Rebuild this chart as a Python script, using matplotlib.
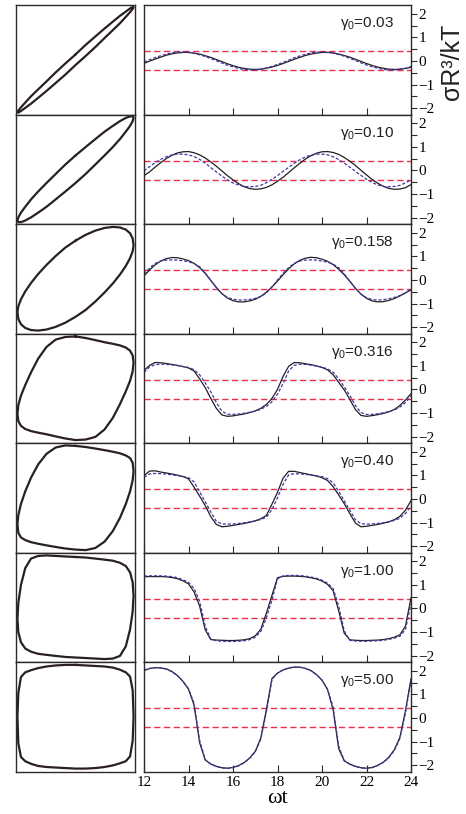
import matplotlib
matplotlib.use("Agg")
import matplotlib.pyplot as plt
from matplotlib.ticker import MultipleLocator

plt.rcParams['font.family'] = 'Liberation Serif'
plt.rcParams['mathtext.fontset'] = 'custom'
plt.rcParams['mathtext.rm'] = 'Liberation Sans'
plt.rcParams['mathtext.it'] = 'Liberation Sans'

gamma0 = ['0.03', '0.10', '0.158', '0.316', '0.40', '1.00', '5.00']
red_levels = [0.4, -0.4]
xticks = [12, 14, 16, 18, 20, 22, 24]
yticks = [-2, -1, 0, 1, 2]

# omega*t samples
wt = [12.0, 12.25, 12.5, 12.75, 13.0, 13.25, 13.5, 13.75, 14.0, 14.25, 14.5, 14.75,
      15.0, 15.25, 15.5, 15.75, 16.0, 16.25, 16.5, 16.75, 17.0, 17.25, 17.5, 17.75,
      18.0, 18.25, 18.5, 18.75, 19.0, 19.25, 19.5, 19.75, 20.0, 20.25, 20.5, 20.75,
      21.0, 21.25, 21.5, 21.75, 22.0, 22.25, 22.5, 22.75, 23.0, 23.25, 23.5, 23.75, 24.0]

# stress, simulation (solid)
sim_003 = [-0.10, -0.01, 0.08, 0.16, 0.24, 0.30, 0.34, 0.36, 0.36, 0.33, 0.29, 0.22,
           0.15, 0.06, -0.03, -0.12, -0.20, -0.27, -0.32, -0.35, -0.36, -0.35, -0.31, -0.26,
           -0.19, -0.11, -0.02, 0.07, 0.15, 0.23, 0.29, 0.33, 0.36, 0.36, 0.34, 0.29,
           0.23, 0.16, 0.07, -0.02, -0.11, -0.19, -0.26, -0.31, -0.35, -0.36, -0.35, -0.32, -0.27]
sim_010 = [-0.22, -0.06, 0.14, 0.33, 0.50, 0.64, 0.74, 0.79, 0.80, 0.75, 0.66, 0.53,
           0.36, 0.18, -0.02, -0.22, -0.40, -0.56, -0.69, -0.77, -0.80, -0.78, -0.72, -0.61,
           -0.46, -0.29, -0.09, 0.11, 0.30, 0.48, 0.62, 0.73, 0.79, 0.80, 0.76, 0.68,
           0.55, 0.39, 0.21, 0.01, -0.19, -0.38, -0.54, -0.67, -0.76, -0.80, -0.79, -0.73, -0.60]
sim_0158 = [0.17, 0.42, 0.64, 0.80, 0.90, 0.95, 0.94, 0.89, 0.82, 0.70, 0.52, 0.28,
            -0.02, -0.32, -0.58, -0.77, -0.88, -0.93, -0.93, -0.89, -0.82, -0.70, -0.52, -0.30,
            -0.05, 0.22, 0.47, 0.68, 0.83, 0.92, 0.96, 0.94, 0.88, 0.79, 0.65, 0.45,
            0.22, -0.06, -0.35, -0.60, -0.78, -0.89, -0.93, -0.92, -0.87, -0.79, -0.68, -0.55, -0.42]
sim_0316 = [0.80, 1.02, 1.14, 1.13, 1.10, 1.06, 1.02, 0.97, 0.91, 0.78, 0.45, 0.08,
            -0.38, -0.80, -1.08, -1.14, -1.12, -1.08, -1.04, -0.98, -0.91, -0.80, -0.64, -0.38,
            0.00, 0.55, 0.98, 1.14, 1.13, 1.09, 1.05, 1.00, 0.93, 0.83, 0.62, 0.30,
            -0.02, -0.42, -0.85, -1.10, -1.14, -1.11, -1.07, -1.02, -0.95, -0.85, -0.68, -0.45, -0.18]
sim_040 = [0.99, 1.18, 1.19, 1.14, 1.10, 1.06, 1.01, 0.95, 0.85, 0.50, 0.12, -0.28,
           -0.75, -1.08, -1.18, -1.16, -1.12, -1.08, -1.04, -0.99, -0.93, -0.84, -0.70, -0.22,
           0.28, 0.88, 1.17, 1.17, 1.12, 1.07, 1.02, 0.97, 0.90, 0.78, 0.52, 0.17,
           -0.20, -0.62, -1.02, -1.18, -1.16, -1.12, -1.08, -1.03, -0.97, -0.88, -0.74, -0.48, -0.07]
sim_100 = [1.34, 1.35, 1.35, 1.35, 1.34, 1.31, 1.26, 1.17, 1.04, 0.70, 0.10, -0.90,
           -1.32, -1.34, -1.35, -1.36, -1.36, -1.35, -1.33, -1.28, -1.16, -0.88, -0.20, 0.55,
           1.30, 1.36, 1.37, 1.37, 1.36, 1.34, 1.30, 1.25, 1.16, 1.02, 0.75, -0.10,
           -1.05, -1.33, -1.35, -1.36, -1.36, -1.35, -1.34, -1.32, -1.28, -1.22, -1.12, -0.75, 0.45]
sim_500 = [2.01, 2.09, 2.13, 2.12, 2.08, 1.97, 1.80, 1.55, 1.22, 0.55, -1.05, -1.78,
           -1.95, -2.05, -2.11, -2.13, -2.10, -2.02, -1.89, -1.70, -1.42, -0.85, 0.35, 1.67,
           1.90, 2.03, 2.11, 2.15, 2.15, 2.10, 2.01, 1.84, 1.60, 1.20, 0.35, -1.30,
           -1.82, -1.96, -2.05, -2.11, -2.13, -2.10, -2.01, -1.88, -1.67, -1.35, -0.82, 0.30, 1.66]

# stress, model (dashed)
mod_003 = [-0.05, 0.05, 0.14, 0.22, 0.29, 0.34, 0.37, 0.38, 0.36, 0.32, 0.26, 0.19,
           0.10, 0.01, -0.09, -0.18, -0.25, -0.32, -0.36, -0.38, -0.38, -0.35, -0.30, -0.23,
           -0.15, -0.06, 0.03, 0.13, 0.21, 0.28, 0.34, 0.37, 0.38, 0.37, 0.33, 0.27,
           0.20, 0.11, 0.02, -0.08, -0.17, -0.25, -0.31, -0.36, -0.38, -0.38, -0.35, -0.31, -0.24]
mod_010 = [-0.02, 0.16, 0.33, 0.47, 0.58, 0.65, 0.69, 0.69, 0.66, 0.59, 0.47, 0.31,
           0.12, -0.06, -0.24, -0.40, -0.53, -0.62, -0.68, -0.69, -0.68, -0.63, -0.52, -0.38,
           -0.22, -0.04, 0.13, 0.30, 0.45, 0.57, 0.65, 0.69, 0.69, 0.66, 0.58, 0.46,
           0.31, 0.14, -0.04, -0.21, -0.37, -0.51, -0.61, -0.68, -0.69, -0.68, -0.63, -0.53, -0.40]
mod_0158 = [0.25, 0.50, 0.70, 0.80, 0.84, 0.85, 0.84, 0.81, 0.77, 0.70, 0.56, 0.30,
            -0.02, -0.33, -0.58, -0.74, -0.82, -0.85, -0.85, -0.83, -0.78, -0.70, -0.55, -0.30,
            0.00, 0.28, 0.52, 0.70, 0.80, 0.84, 0.85, 0.84, 0.80, 0.75, 0.67, 0.52,
            0.26, -0.05, -0.36, -0.60, -0.75, -0.83, -0.85, -0.84, -0.80, -0.74, -0.66, -0.55, -0.38]
mod_0316 = [0.72, 0.95, 1.05, 1.07, 1.06, 1.04, 1.01, 0.97, 0.93, 0.84, 0.62, 0.28,
            -0.10, -0.55, -0.92, -1.05, -1.06, -1.04, -1.01, -0.97, -0.92, -0.84, -0.72, -0.52,
            -0.20, 0.25, 0.78, 1.02, 1.07, 1.06, 1.03, 0.99, 0.94, 0.87, 0.73, 0.45,
            0.10, -0.25, -0.68, -0.98, -1.06, -1.06, -1.03, -0.99, -0.94, -0.87, -0.75, -0.55, -0.28]
mod_040 = [0.92, 1.06, 1.08, 1.07, 1.05, 1.02, 0.99, 0.95, 0.90, 0.72, 0.30, -0.12,
           -0.55, -0.95, -1.06, -1.07, -1.06, -1.04, -1.01, -0.97, -0.93, -0.87, -0.78, -0.45,
           0.05, 0.62, 1.02, 1.07, 1.06, 1.04, 1.01, 0.98, 0.94, 0.86, 0.68, 0.32,
           -0.08, -0.48, -0.88, -1.05, -1.07, -1.06, -1.04, -1.01, -0.97, -0.91, -0.82, -0.62, -0.30]
mod_100 = [1.37, 1.38, 1.38, 1.38, 1.37, 1.35, 1.30, 1.22, 1.10, 0.85, 0.30, -0.75,
           -1.30, -1.37, -1.39, -1.40, -1.40, -1.39, -1.37, -1.32, -1.22, -0.98, -0.40, 0.35,
           1.25, 1.38, 1.40, 1.40, 1.39, 1.37, 1.33, 1.28, 1.20, 1.07, 0.85, 0.10,
           -0.95, -1.35, -1.38, -1.39, -1.39, -1.38, -1.37, -1.35, -1.31, -1.26, -1.18, -0.90, 0.20]
mod_500 = [2.03, 2.10, 2.13, 2.12, 2.07, 1.96, 1.79, 1.55, 1.24, 0.62, -0.95, -1.76,
           -1.96, -2.06, -2.12, -2.14, -2.11, -2.03, -1.90, -1.71, -1.44, -0.90, 0.25, 1.62,
           1.90, 2.04, 2.12, 2.16, 2.15, 2.10, 2.00, 1.83, 1.60, 1.22, 0.45, -1.20,
           -1.80, -1.96, -2.06, -2.12, -2.14, -2.11, -2.02, -1.89, -1.69, -1.38, -0.88, 0.20, 1.60]

# Lissajous loops: normalised strain (one cycle) and normalised stress
strain = [0.0, 0.174, 0.342, 0.5, 0.643, 0.766, 0.866, 0.94, 0.985, 1.0, 0.985, 0.94,
          0.866, 0.766, 0.643, 0.5, 0.342, 0.174, 0.0, -0.174, -0.342, -0.5, -0.643, -0.766,
          -0.866, -0.94, -0.985, -1.0, -0.985, -0.94, -0.866, -0.766, -0.643, -0.5, -0.342, -0.174]
loop_003 = [0.10, 0.28, 0.44, 0.59, 0.72, 0.83, 0.91, 0.97, 1.00, 0.99, 0.96, 0.90,
            0.81, 0.69, 0.56, 0.41, 0.24, 0.07, -0.10, -0.28, -0.44, -0.59, -0.72, -0.83,
            -0.91, -0.97, -1.00, -0.99, -0.96, -0.90, -0.81, -0.69, -0.56, -0.41, -0.24, -0.07]
loop_010 = [0.26, 0.42, 0.57, 0.71, 0.82, 0.91, 0.97, 1.00, 1.00, 0.97, 0.91, 0.82,
            0.71, 0.57, 0.42, 0.26, 0.09, -0.09, -0.26, -0.42, -0.57, -0.71, -0.82, -0.91,
            -0.97, -1.00, -1.00, -0.97, -0.91, -0.82, -0.71, -0.57, -0.42, -0.26, -0.09, 0.09]
loop_0158 = [0.72, 0.83, 0.91, 0.96, 0.98, 0.97, 0.93, 0.86, 0.76, 0.63, 0.52, 0.39,
             0.24, 0.08, -0.09, -0.26, -0.43, -0.59, -0.72, -0.83, -0.91, -0.96, -0.98, -0.97,
             -0.93, -0.86, -0.76, -0.63, -0.52, -0.39, -0.24, -0.08, 0.09, 0.26, 0.43, 0.59]
loop_0316 = [0.98, 0.95, 0.91, 0.87, 0.84, 0.81, 0.77, 0.71, 0.62, 0.49, 0.32, 0.14,
             -0.06, -0.30, -0.56, -0.78, -0.92, -0.97, -0.98, -0.95, -0.91, -0.87, -0.84, -0.81,
             -0.77, -0.71, -0.62, -0.49, -0.32, -0.14, 0.06, 0.30, 0.56, 0.78, 0.92, 0.97]
loop_040 = [0.98, 0.96, 0.93, 0.90, 0.87, 0.84, 0.80, 0.75, 0.66, 0.50, 0.33, 0.12,
            -0.12, -0.38, -0.63, -0.83, -0.95, -0.99, -0.98, -0.96, -0.93, -0.90, -0.87, -0.84,
            -0.80, -0.75, -0.66, -0.50, -0.33, -0.12, 0.12, 0.38, 0.63, 0.83, 0.95, 0.99]
loop_100 = [0.95, 0.94, 0.92, 0.90, 0.88, 0.84, 0.78, 0.66, 0.47, 0.22, -0.08, -0.42,
            -0.74, -0.92, -0.97, -0.98, -0.97, -0.96, -0.95, -0.94, -0.92, -0.90, -0.88, -0.84,
            -0.78, -0.66, -0.47, -0.22, 0.08, 0.42, 0.74, 0.92, 0.97, 0.98, 0.97, 0.96]
loop_500 = [0.98, 0.97, 0.96, 0.95, 0.93, 0.89, 0.84, 0.76, 0.50, 0.00, -0.45, -0.75,
            -0.84, -0.88, -0.92, -0.95, -0.97, -0.98, -0.98, -0.97, -0.96, -0.95, -0.93, -0.89,
            -0.84, -0.76, -0.50, 0.00, 0.45, 0.75, 0.84, 0.88, 0.92, 0.95, 0.97, 0.98]

sims = [sim_003, sim_010, sim_0158, sim_0316, sim_040, sim_100, sim_500]
mods = [mod_003, mod_010, mod_0158, mod_0316, mod_040, mod_100, mod_500]
loops = [loop_003, loop_010, loop_0158, loop_0316, loop_040, loop_100, loop_500]

frame = '#2e2a2b'
W, H = 466, 814
fig = plt.figure(figsize=(W / 100, H / 100), dpi=100)

top = 5
row_h = 109.5
for i in range(7):
    y0 = 1 - (top + (i + 1) * row_h) / H
    h = row_h / H

    # loop panel
    axl = fig.add_axes([16 / W, y0, 119 / W, h])
    xs = strain + strain[:1]
    ys = loops[i] + loops[i][:1]
    axl.plot(xs, ys, color='#2a2023', lw=1.6, solid_joinstyle='round')
    axl.set_xlim(-1.025, 1.025)
    axl.set_ylim(-1.035, 1.035)
    axl.set_xticks([])
    axl.set_yticks([])
    for s in axl.spines.values():
        s.set_color(frame)
        s.set_linewidth(1.0)

    # time series panel
    ax = fig.add_axes([144 / W, y0, 267 / W, h])
    for lev in red_levels:
        ax.axhline(lev, color='#ec2f4f', lw=1.0, dashes=(4.5, 2.5))
    ax.plot(wt, sims[i], color='#231f20', lw=0.9)
    ax.plot(wt, mods[i], color='#4036a6', lw=0.9, dashes=(2.5, 1.5))
    ax.set_xlim(12, 24)
    ax.set_ylim(-2.27, 2.37)
    ax.yaxis.tick_right()
    ax.set_yticks(yticks)
    ax.yaxis.set_minor_locator(MultipleLocator(0.5))
    ax.set_xticks(xticks)
    ax.tick_params(axis='y', which='both', direction='out', length=4, width=0.8,
                   color=frame, labelsize=11, pad=1.5, right=True, left=False)
    ax.tick_params(axis='x', direction='in', length=5, width=0.8, color=frame,
                   labelsize=11, top=False, pad=3)
    if i < 6:
        ax.tick_params(axis='x', labelbottom=False)
    for s in ax.spines.values():
        s.set_color(frame)
        s.set_linewidth(1.0)
    ax.text(0.935, 0.905, r'$\gamma_0$=' + gamma0[i], transform=ax.transAxes,
            ha='right', va='top', fontsize=11, family='Liberation Sans', color='#231f20')
    if i == 6:
        ax.set_xlabel('ωt', fontsize=16, labelpad=0)

fig.text(452 / W, 1 - 62 / H, 'σR³/kT', rotation=90, ha='center', va='center',
         fontsize=18, family='Liberation Sans', color='#231f20')

fig.savefig('out.png', dpi=100)
